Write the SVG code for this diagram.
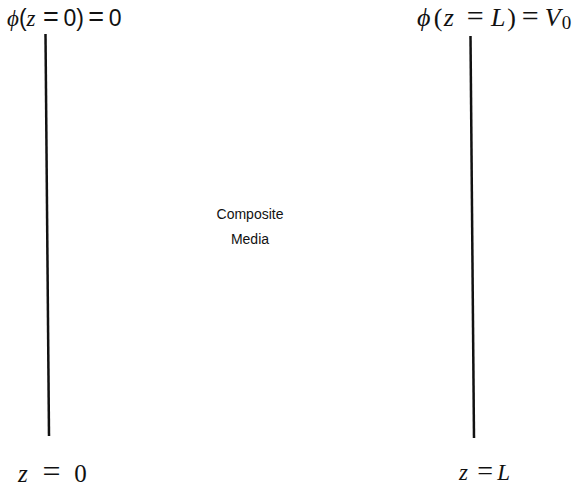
<svg xmlns="http://www.w3.org/2000/svg" width="581" height="490" viewBox="0 0 581 490">
<style>
.m{font-family:"Liberation Serif","DejaVu Serif",serif;fill:#111}
.i{font-style:italic}
.s{font-family:"Liberation Sans","DejaVu Sans",sans-serif;fill:#111}
.sp{font-size:8px}
.plate{stroke:#111;stroke-width:2.5;fill:none}
</style>
<rect width="581" height="490" fill="#fff"/>
<g id="connectors">
<line id="plate-left" class="plate" x1="45.5" y1="34" x2="49" y2="436"/>
<line id="plate-right" class="plate" x1="470.5" y1="36" x2="474" y2="438"/>
</g>
<g id="label-top-left">
<text x="7" y="26" font-size="23" class="s" xml:space="preserve"><tspan class="m i">ϕ</tspan><tspan>(</tspan><tspan class="m i">z</tspan><tspan class="sp"> </tspan><tspan font-size="27" dx="5.3">=</tspan><tspan class="sp"> </tspan><tspan dx="2.3">0)</tspan><tspan class="sp"> </tspan><tspan font-size="27" dx="2.3">=</tspan><tspan class="sp"> </tspan><tspan dx="2.3">0</tspan></text>
</g>
<g id="label-top-right">
<text x="417" y="26" font-size="26" class="m" xml:space="preserve"><tspan class="i">ϕ</tspan><tspan dx="3.2">(</tspan><tspan class="i" dx="1.5">z</tspan><tspan class="sp"> </tspan><tspan font-size="30" dx="10.7">=</tspan><tspan class="sp"> </tspan><tspan class="i" dx="5.4">L</tspan><tspan dx="1.9">)</tspan><tspan class="sp"> </tspan><tspan font-size="30" dx="3.6">=</tspan><tspan class="sp"> </tspan><tspan class="i" dx="4.2">V</tspan><tspan dx="1.2" dy="3" font-size="19">0</tspan></text>
</g>
<g id="label-bottom-left">
<text x="18" y="482" font-size="25" class="m" xml:space="preserve"><tspan class="i">z</tspan><tspan class="sp"> </tspan><tspan font-size="32" dx="12.8">=</tspan><tspan class="sp"> </tspan><tspan dx="11.75">0</tspan></text>
</g>
<g id="label-bottom-right">
<text x="459" y="480" font-size="23" class="m" xml:space="preserve"><tspan class="i">z</tspan><tspan class="sp"> </tspan><tspan font-size="28" dx="7.2">=</tspan><tspan class="sp"> </tspan><tspan class="i" dx="2.2">L</tspan></text>
</g>
<g id="media">
<text x="250" y="219" font-size="14" text-anchor="middle" class="s">Composite</text>
<text x="250" y="244" font-size="14" text-anchor="middle" class="s">Media</text>
</g>
</svg>
